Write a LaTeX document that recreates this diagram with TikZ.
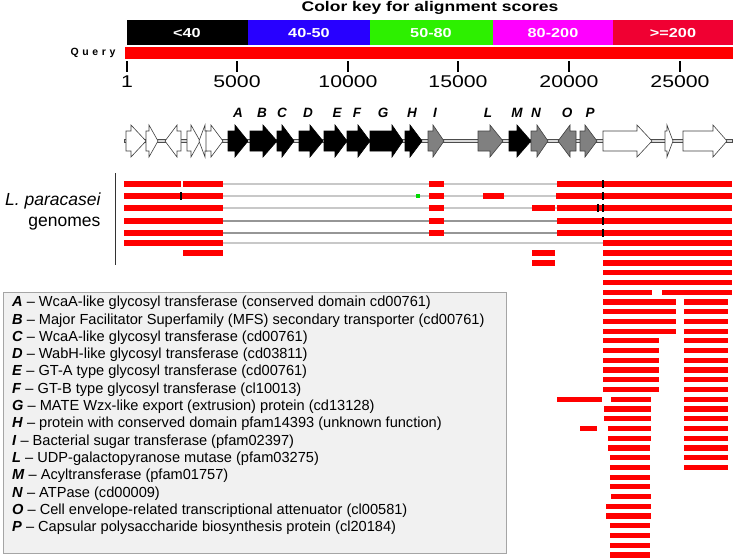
\documentclass[tikz,border=0pt]{standalone}
\usepackage{fontspec}
\setmainfont{Liberation Sans}
\usepackage{graphicx}
\definecolor{kblue}{RGB}{40,0,255}
\definecolor{kgreen}{RGB}{45,240,0}
\definecolor{kmag}{RGB}{255,0,255}
\definecolor{kred}{RGB}{240,0,50}
\definecolor{alnred}{RGB}{255,0,0}
\definecolor{lgray}{RGB}{200,200,200}
\definecolor{dgray}{RGB}{150,150,150}
\definecolor{genegray}{RGB}{128,128,128}
\definecolor{legfill}{RGB}{241,241,241}
\definecolor{legdraw}{RGB}{165,165,165}
\newcommand\hs[1]{\scalebox{1.25}[1]{#1}}
\newcommand\fs[1]{\fontsize{#1}{#1}\selectfont}
\newcommand\rb[3]{\fill[alnred] (#1,#3-2.6) rectangle (#2,#3+2.6);}
\newcommand\tk[2]{\draw[black,line width=1.2pt] (#1,#2-3.6) -- (#1,#2+3.6);}
\newcommand\rgene[4]{\draw[#4] (#1,131) -- (#2,131) -- (#2,125) -- (#3,141) -- (#2,157) -- (#2,151) -- (#1,151) -- cycle;}
\newcommand\lgene[4]{\draw[#4] (#1,141) -- (#2,125) -- (#2,131) -- (#3,131) -- (#3,151) -- (#2,151) -- (#2,157) -- cycle;}
\tikzset{
  wgene/.style={fill=white,draw=black!75,line width=0.6pt,line join=miter},
  bgene/.style={fill=black,draw=black,line width=0.6pt},
  ggene/.style={fill=genegray,draw=black!75,line width=0.6pt},
  glab/.style={font=\fs{13.5}\bfseries\itshape},
  keylab/.style={font=\fs{13}\bfseries,text=white},
  ticklab/.style={font=\fs{17}},
  legline/.style={anchor=west,font=\fs{14.6},inner sep=0pt},
  lightline/.style={draw=lgray,line width=1.5pt},
  darkline/.style={draw=dgray,line width=1.5pt}
}
\begin{document}
\begin{tikzpicture}[x=1pt,y=-1pt]
\useasboundingbox (0,0) rectangle (737,560);
% ---- color key
\node[font=\fs{14}\bfseries] (title) at (430,8) {\hs{Color key for alignment scores}};
\fill[black] (127,20) rectangle (248,45);
\fill[kblue] (248,20) rectangle (370,45);
\fill[kgreen] (370,20) rectangle (493,45);
\fill[kmag] (493,20) rectangle (613,45);
\fill[kred] (613,20) rectangle (733,45);
\node[keylab] (k1) at (187,33) {\hs{<40}};
\node[keylab] (k2) at (309,33) {\hs{40-50}};
\node[keylab] (k3) at (431,33) {\hs{50-80}};
\node[keylab] (k4) at (553,33) {\hs{80-200}};
\node[keylab] (k5) at (673,33) {\hs{>=200}};
% ---- query
\fill[alnred] (125,47) rectangle (733,59);
\node[font=\fs{10.5}\bfseries] (query) at (93,53) {Q\kern3.6pt u\kern3.6pt e\kern3.6pt r\kern3.6pt y};
\foreach \x/\l in {127/1,237/5000,348/10000,458/15000,569/20000,680/25000}{
  \draw[black,line width=2pt] (\x,61) -- (\x,72);
  \node[ticklab] (tl\l) at (\x,82) {\hs{\l}};
}
% ---- gene map
\draw[fill=lgray!70,draw=black!70,line width=0.5pt] (124,139.3) rectangle (732,142.7);
\rgene{126}{131}{146}{wgene}
\rgene{146}{149}{158}{wgene}
\lgene{165}{177}{181}{wgene}
\rgene{187}{191}{200}{wgene}
\lgene{199}{205}{207}{wgene}
\rgene{206}{211}{223}{wgene}
\rgene{228}{235}{248}{bgene}
\rgene{250}{263}{277}{bgene}
\rgene{277}{282}{294}{bgene}
\rgene{299}{310}{323}{bgene}
\rgene{324}{335}{347}{bgene}
\rgene{347}{358}{370}{bgene}
\rgene{370}{392}{403}{bgene}
\rgene{405}{410}{422}{bgene}
\rgene{428}{433}{444}{ggene}
\rgene{478}{490}{503}{ggene}
\rgene{509}{517}{531}{bgene}
\rgene{531}{537}{548}{ggene}
\lgene{558}{570}{576}{ggene}
\rgene{580}{585}{597}{ggene}
\rgene{603}{637}{652}{wgene}
\rgene{665}{667}{673}{wgene}
\rgene{683}{713}{727}{wgene}
\foreach \x/\l in {238/A,262/B,282/C,308/D,337/E,357/F,383/G,412/H,435/I,488/L,517/M,536/N,567/O,590/P}{
  \node[glab] (g\l) at (\x,113) {\l};
}
% ---- genomes label
\node[font=\fs{17.5}\itshape,anchor=east] (lp) at (104,201) {L. paracasei};
\node[font=\fs{17.5},anchor=east] (gen) at (104,224) {genomes};
\draw[black!80,line width=0.8pt] (115,173) -- (115,265);
% ---- alignment rows
\draw[lightline] (223,184) -- (557,184);
\draw[lightline] (223,196) -- (557,196);
\draw[lightline] (223,208) -- (557,208);
\draw[darkline] (223,221) -- (557,221);
\draw[darkline] (223,233) -- (557,233);
\draw[lightline] (223,243) -- (603,243);
% row 1
\rb{124}{181}{184}\rb{183}{223}{184}\rb{429}{444}{184}\rb{557}{732}{184}\tk{603}{184}
% row 2
\rb{124}{223}{196}\rb{429}{444}{196}\rb{483}{504}{196}\rb{556}{732}{196}\tk{181}{196}\tk{603}{196}
\fill[green!85!black] (416,194) rectangle (420,198);
% row 3
\rb{124}{223}{208}\rb{429}{444}{208}\rb{532}{555}{208}\rb{557}{732}{208}\tk{598}{208}\tk{603}{208}
% rows 4,5
\foreach \y in {221,233}{\rb{124}{223}{\y}\rb{429}{444}{\y}\rb{557}{732}{\y}\tk{603}{\y}}
% row 6,7
\rb{124}{223}{243}\rb{603}{732}{243}
\rb{183}{223}{253}\rb{532}{555}{253}\rb{603}{732}{253}
% lower rows
\rb{532}{555}{263}\rb{603}{732}{263}
\foreach \y in {272.7,282.5}{\rb{603}{732}{\y}}
\rb{603}{652}{292.2}\rb{662}{732}{292.2}
\foreach \y in {301.9,311.7,321.4,331.1}{\rb{603}{676}{\y}\rb{684}{728}{\y}}
\foreach \y in {340.8,350.6,360.3,370,379.8,389.5}{\rb{603}{659}{\y}\rb{684}{728}{\y}}
\rb{557}{602}{399.2}\rb{611}{651}{399.2}\rb{684}{728}{399.2}
\foreach \y in {409,418.7}{\rb{604}{651}{\y}\rb{684}{728}{\y}}
\rb{580}{597}{428.4}\rb{608}{651}{428.4}\rb{684}{728}{428.4}
\rb{608}{651}{438.1}\rb{684}{728}{438.1}
\rb{608}{650}{447.9}\rb{684}{728}{447.9}
\foreach \y in {457.6,467.3}{\rb{610}{650}{\y}\rb{684}{728}{\y}}
\foreach \y in {477.1,486.8}{\rb{610}{650}{\y}}
\rb{611}{651}{496.5}
\foreach \y in {506.3,516}{\rb{606}{651}{\y}}
\foreach \y in {525.7,535.4,545.2,554.9}{\rb{610}{650}{\y}}
% ---- legend
\draw[fill=legfill,draw=legdraw,line width=1pt] (3,292) rectangle (506,553);
\foreach \i/\l/\t in {
 0/A/WcaA-like glycosyl transferase (conserved domain cd00761),
 1/B/Major Facilitator Superfamily (MFS) secondary transporter (cd00761),
 2/C/WcaA-like glycosyl transferase (cd00761),
 3/D/WabH-like glycosyl transferase (cd03811),
 4/E/GT-A type glycosyl transferase (cd00761),
 5/F/GT-B type glycosyl transferase (cl10013),
 6/G/MATE Wzx-like export (extrusion) protein (cd13128),
 7/H/protein with conserved domain pfam14393 (unknown function),
 8/I/Bacterial sugar transferase (pfam02397),
 9/L/UDP-galactopyranose mutase (pfam03275),
 10/M/Acyltransferase (pfam01757),
 11/N/ATPase (cd00009),
 12/O/Cell envelope-related transcriptional attenuator (cl00581),
 13/P/Capsular polysaccharide biosynthesis protein (cl20184)}{
  \node[legline] (leg\l) at (12,303+17.3*\i) {\textbf{\textit{\l}} – \t};
}
\end{tikzpicture}
\end{document}
